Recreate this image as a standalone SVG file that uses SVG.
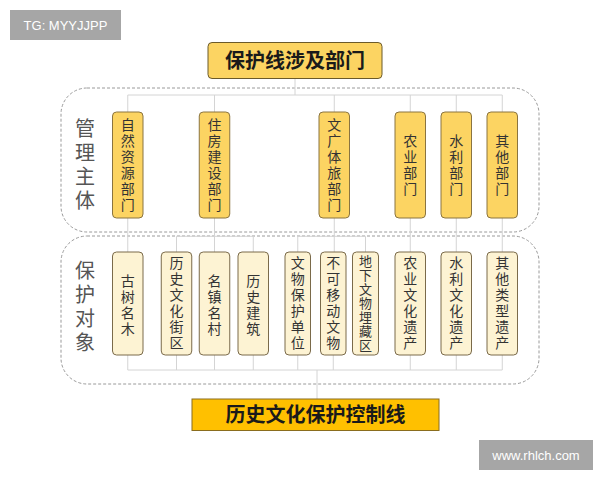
<svg xmlns="http://www.w3.org/2000/svg" width="600" height="480" viewBox="0 0 600 480">
<style>
text{font-family:"Noto Sans CJK SC","Noto Sans",sans-serif;text-anchor:middle}
.v{writing-mode:vertical-rl}
.wm{fill:#a6a6a6}
.wmt{fill:#fff;font-family:"Liberation Sans",Arial,sans-serif;font-size:13px}
.grp{fill:none;stroke:#9a9a9a;stroke-width:1;stroke-dasharray:3 2}
.conn{fill:none;stroke:#d4d4d4;stroke-width:1}
.title{fill:#fcd462;stroke:#6b5a2a;stroke-width:1}
.final{fill:#ffc000;stroke:#8a6d1e;stroke-width:1}
.dept{fill:#fcd462;stroke:#8a7440;stroke-width:1}
.obj{fill:#fdf3d3;stroke:#7a6a4a;stroke-width:1}
.tt{font-size:20px;font-weight:700;fill:#1a1a1a}
.lbl{font-size:20px;fill:#555;letter-spacing:4px}
.bt{font-size:14px;fill:#333;letter-spacing:2px}
.bs{font-size:13px;fill:#333;letter-spacing:1px}
</style>
<rect class="wm" x="10" y="10" width="111" height="30"/>
<text class="wmt" x="65.5" y="30">TG: MYYJJPP</text>
<rect class="wm" x="479" y="440" width="114" height="30"/>
<text class="wmt" x="536" y="460">www.rhlch.com</text>

<rect class="grp" x="61" y="88" width="478" height="144" rx="26"/>
<rect class="grp" x="61" y="236" width="478" height="148" rx="26"/>

<g id="connectors">
<path class="conn" d="M295 78V95M127.75 95H502.25M127.75 95V112M214.5 95V112M334.25 95V112M410.25 95V112M456.25 95V112M502.25 95V112"/>
<path class="conn" d="M127.75 218V252M214.5 218V252M334.25 218V252M410.25 218V252M456.25 218V252M502.25 218V252"/>
<path class="conn" d="M176.5 252V236.3H253.25V252M297.75 252V236.3H365.5V252"/>
<path class="conn" d="M127.75 355V370M176.5 355V370M214.5 355V370M253.25 355V370M297.75 355V370M333.25 355V370M410.25 355V370M456.25 355V370M502.25 355V370M127.75 370H502.25M317 370V399"/>
</g>

<g id="title">
<rect class="title" x="208" y="42.5" width="174" height="36" rx="4"/>
<text class="tt" x="295" y="67.5">保护线涉及部门</text>
</g>

<text class="lbl v" x="85" y="166">管理主体</text>
<text class="lbl v" x="85" y="308">保护对象</text>

<g id="d1"><rect class="dept" x="112.5" y="112" width="30.5" height="106" rx="4"/>
<text class="bt v" x="127.75" y="166">自然资源部门</text></g>
<g id="d2"><rect class="dept" x="199.25" y="112" width="30.5" height="106" rx="4"/>
<text class="bt v" x="214.5" y="166">住房建设部门</text></g>
<g id="d3"><rect class="dept" x="319" y="112" width="30.5" height="106" rx="4"/>
<text class="bt v" x="334.25" y="166">文广体旅部门</text></g>
<g id="d4"><rect class="dept" x="395" y="112" width="30.5" height="106" rx="4"/>
<text class="bt v" x="410.25" y="166">农业部门</text></g>
<g id="d5"><rect class="dept" x="441" y="112" width="30.5" height="106" rx="4"/>
<text class="bt v" x="456.25" y="166">水利部门</text></g>
<g id="d6"><rect class="dept" x="487" y="112" width="30.5" height="106" rx="4"/>
<text class="bt v" x="502.25" y="166">其他部门</text></g>

<g id="o1"><rect class="obj" x="112.5" y="252" width="30.5" height="103" rx="4"/>
<text class="bt v" x="127.75" y="306">古树名木</text></g>
<g id="o2"><rect class="obj" x="161.25" y="252" width="30.5" height="103" rx="4"/>
<text class="bt v" x="176.5" y="304">历史文化街区</text></g>
<g id="o3"><rect class="obj" x="199.25" y="252" width="30.5" height="103" rx="4"/>
<text class="bt v" x="214.5" y="306">名镇名村</text></g>
<g id="o4"><rect class="obj" x="238" y="252" width="30.5" height="103" rx="4"/>
<text class="bt v" x="253.25" y="306">历史建筑</text></g>
<g id="o5"><rect class="obj" x="285" y="252" width="25.5" height="103" rx="4"/>
<text class="bt v" x="297.75" y="304">文物保护单位</text></g>
<g id="o6"><rect class="obj" x="320.5" y="252" width="25.5" height="103" rx="4"/>
<text class="bt v" x="333.25" y="304">不可移动文物</text></g>
<g id="o7"><rect class="obj" x="352.5" y="252" width="26" height="103" rx="4"/>
<text class="bs v" x="365.5" y="304">地下文物埋藏区</text></g>
<g id="o8"><rect class="obj" x="395" y="252" width="30.5" height="103" rx="4"/>
<text class="bt v" x="410.25" y="304">农业文化遗产</text></g>
<g id="o9"><rect class="obj" x="441" y="252" width="30.5" height="103" rx="4"/>
<text class="bt v" x="456.25" y="304">水利文化遗产</text></g>
<g id="o10"><rect class="obj" x="487" y="252" width="30.5" height="103" rx="4"/>
<text class="bt v" x="502.25" y="304">其他类型遗产</text></g>

<g id="final">
<rect class="final" x="192" y="399" width="247" height="31.5"/>
<text class="tt" x="315.5" y="422">历史文化保护控制线</text>
</g>
</svg>
